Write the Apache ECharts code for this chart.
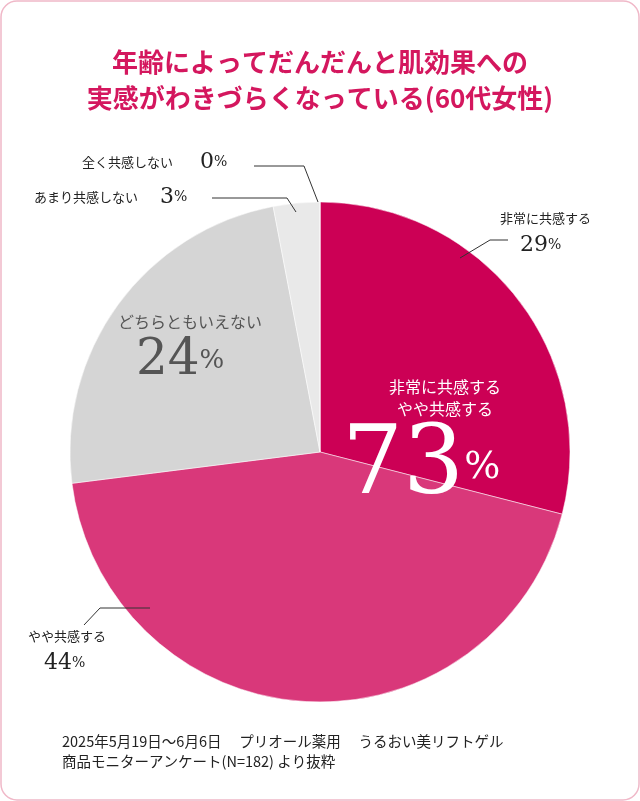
<!DOCTYPE html>
<html><head><meta charset="utf-8">
<script src="https://cdn.jsdelivr.net/npm/echarts@6/dist/echarts.min.js"></script>
<style>html,body{margin:0;padding:0;background:#fff}#c{width:640px;height:801px}</style>
</head><body><div id="c"></div>
<script>
const categories = ['非常に共感する','やや共感する','どちらともいえない','あまり共感しない','全く共感しない'];
const values = [29,44,24,3,0];
const colors = ['#cc0055','#d9387a','#d5d5d5','#e9e9e9','#f2f2f2'];
const titleLines = ['年齢によってだんだんと肌効果への','実感がわきづらくなっている(60代女性)'];
const noteLines = ['2025年5月19日〜6月6日　 プリオール薬用　 うるおい美リフトゲル','商品モニターアンケート(N=182) より抜粋'];
const agreeTotal = values[0]+values[1];

const chart = echarts.init(document.getElementById('c'));
const serif = 'DejaVu Serif, Liberation Serif, serif';
const sans = 'Noto Sans CJK JP, Noto Sans, sans-serif';
function rich(big, small, col){
  return {
    n:{fontFamily:serif,fontSize:big,fill:col,color:col},
    p:{fontFamily:serif,fontSize:small,fill:col,color:col}
  };
}
const lineStyle = {stroke:'#333',lineWidth:1,fill:null};
const g = [
    {type:'rect',shape:{x:1,y:1,width:638,height:799,r:16},style:{fill:'#fff',stroke:'#f0b8c8',lineWidth:1.5},z:-10},
    {type:'text',x:320,y:44,style:{text:titleLines.join('\n'),font:'bold 26px '+sans,fill:'#d4175e',lineHeight:36,align:'center'}},
    {type:'text',x:62,y:731,style:{text:noteLines.join('\n'),font:'14.5px '+sans,fill:'#222',lineHeight:20}},
    {type:'text',x:500,y:212,style:{text:categories[0],font:'13px '+sans,fill:'#222'}},
    {type:'text',x:520,y:234,style:{text:'{n|'+values[0]+'}{p|%}',rich:rich(22,14,'#222')}},
    {type:'polyline',shape:{points:[[508,240],[490,240],[460,258]]},style:lineStyle},
    {type:'text',x:28,y:630,style:{text:categories[1],font:'13px '+sans,fill:'#222'}},
    {type:'text',x:44,y:652,style:{text:'{n|'+values[1]+'}{p|%}',rich:rich(22,14,'#222')}},
    {type:'polyline',shape:{points:[[84,625],[100,608],[150,608]]},style:lineStyle},
    {type:'text',x:118,y:314,style:{text:categories[2],font:'16px '+sans,fill:'#555'}},
    {type:'text',x:136,y:336,style:{text:'{n|'+values[2]+'}{p|%}',rich:rich(50,26,'#555')}},
    {type:'text',x:34,y:191,style:{text:categories[3],font:'13px '+sans,fill:'#222'}},
    {type:'text',x:160,y:186,style:{text:'{n|'+values[3]+'}{p|%}',rich:rich(22,14,'#222')}},
    {type:'polyline',shape:{points:[[212,198],[287,198],[296,212]]},style:lineStyle},
    {type:'text',x:82,y:156,style:{text:categories[4],font:'13px '+sans,fill:'#222'}},
    {type:'text',x:200,y:151,style:{text:'{n|'+values[4]+'}{p|%}',rich:rich(22,14,'#222')}},
    {type:'polyline',shape:{points:[[254,166],[304,166],[318,202]]},style:lineStyle},
    {type:'text',x:445,y:376,style:{text:categories[0]+'\n'+categories[1],font:'16px '+sans,fill:'#fff',align:'center',lineHeight:22}},
    {type:'text',x:342,y:420,style:{text:'{n|'+agreeTotal+'}{p|%}',rich:rich(96,38,'#fff')}}
];
g.forEach((e,i)=>{ if(i>0) e.z=100; });
chart.setOption({
  animation:false,
  graphic:g,
  series:[{
    type:'pie',center:[320,452],radius:250,startAngle:90,clockwise:true,z:1,
    label:{show:false},labelLine:{show:false},silent:true,
    itemStyle:{borderColor:'#fff',borderWidth:0.5},
    data:categories.map((c,i)=>({name:c,value:values[i],itemStyle:{color:colors[i]}}))
  }]
});
</script></body></html>
